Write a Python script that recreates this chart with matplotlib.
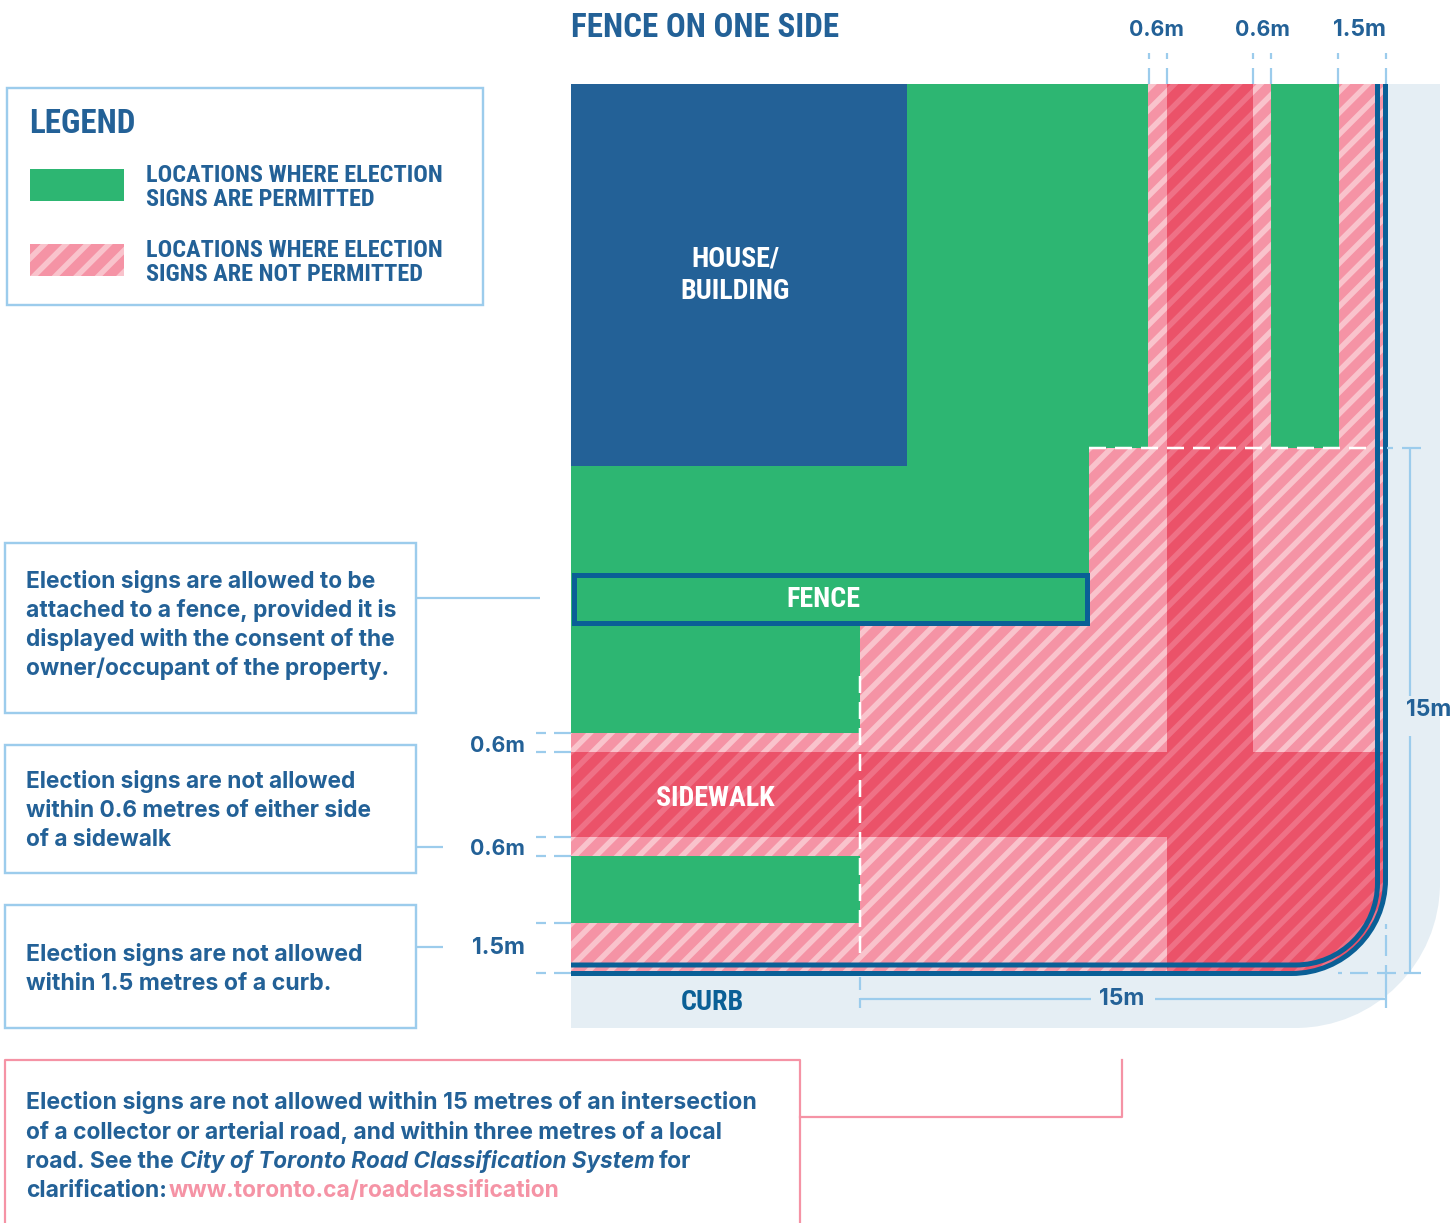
import matplotlib
matplotlib.use("Agg")
import matplotlib.pyplot as plt
import numpy as np
from matplotlib.path import Path
from matplotlib.patches import PathPatch, Rectangle
from matplotlib.collections import LineCollection
from matplotlib import font_manager as fm

# ---- diagram geometry (pixel grid of the figure) ----
road_left, road_top, road_right, road_bottom = 571, 84, 1385, 973
house_box = [571, 907, 84, 466]
fence_box = [573.5, 1087, 574.5, 622.5]
boxes = [[7, 483, 88, 305], [5, 416, 543, 713], [5, 416, 745, 873], [5, 416, 905, 1028]]

legend_title = "LEGEND"
legend_labels = [["LOCATIONS WHERE ELECTION", "SIGNS ARE PERMITTED"],
                 ["LOCATIONS WHERE ELECTION", "SIGNS ARE NOT PERMITTED"]]
note_fence = ["Election signs are allowed to be", "attached to a fence, provided it is",
              "displayed with the consent of the", "owner/occupant of the property."]
note_side = ["Election signs are not allowed", "within 0.6 metres of either side", "of a sidewalk"]
note_curb = ["Election signs are not allowed", "within 1.5 metres of a curb."]
top_dims = [("0.6m", 1156, 21.3), ("0.6m", 1262, 21.3), ("1.5m", 1359.5, 23)]
left_dims = [("0.6m", 744, 21.3), ("0.6m", 847, 21.3), ("1.5m", 946, 23)]

NAVY = "#236197"; CURB = "#0A5F96"; GREEN = "#2DB672"; PINK = "#F593A5"; PINK_S = "#F9C3CC"
RED = "#EB5269"; RED_S = "#EF7186"; SKY = "#9CCCEC"; BG = "#E5EEF4"

names = {f.name for f in fm.fontManager.ttflist}
COND = next((n for n in ["Roboto Condensed", "Liberation Sans Narrow", "Open Sans Condensed", "Roboto"] if n in names), "DejaVu Sans")
BODY = "Inter" if "Inter" in names else "Roboto"
PT = 72 / 100

fig = plt.figure(figsize=(14.54, 12.23), dpi=100, facecolor="white")
ax = fig.add_axes([0, 0, 1, 1]); ax.set_xlim(0, 1454); ax.set_ylim(1223, 0); ax.axis("off")

def rect(x0, x1, y0, y1, **k):
    k.setdefault("lw", 0)
    p = Rectangle((x0, y0), x1 - x0, y1 - y0, **k); ax.add_patch(p); return p

def round_path(pts, corner, r):
    """Closed polygon; `corner` index vertex is rounded with radius r."""
    v, c = [], []
    for i, (x, y) in enumerate(pts):
        if i == corner:
            a, b = pts[i - 1], pts[i + 1]
            k = 0.5523
            da = np.array(a, float) - (x, y); da /= np.hypot(*da)
            db = np.array(b, float) - (x, y); db /= np.hypot(*db)
            P = np.array((x, y), float)
            v += [P + da * r, P + da * r * (1 - k), P + db * r * (1 - k), P + db * r]
            c += [Path.LINETO, Path.CURVE4, Path.CURVE4, Path.CURVE4]
        else:
            v.append((x, y)); c.append(Path.LINETO)
    c[0] = Path.MOVETO
    v.append(v[0]); c.append(Path.CLOSEPOLY)
    return Path(np.array(v, float), c)

def stripes(patch, color, period=21.5, lw_px=5.5, phase=11.5):
    xs = np.arange(phase, 2800, period)
    segs = [[(c, 0), (c - 1223, 1223)] for c in xs]
    lc = LineCollection(segs, colors=color, linewidths=lw_px * PT, zorder=patch.get_zorder() + 0.01)
    ax.add_collection(lc); lc.set_clip_path(patch)

R = 90
# site background
ax.add_patch(PathPatch(round_path([(571, 84), (1440, 84), (1440, 1028), (571, 1028)], 2, 145), fc=BG, lw=0, zorder=1))

# not-permitted zone
pink = round_path([(1148, road_top), (road_right, road_top), (road_right, road_bottom), (road_left, road_bottom),
                   (road_left, 733), (860, 733), (860, 625), (1089, 625), (1089, 448), (1148, 448)], 2, R)
pp = PathPatch(pink, fc=PINK, lw=0, zorder=2); ax.add_patch(pp); stripes(pp, PINK_S)

# sidewalks
red = round_path([(1167, road_top), (1253, road_top), (1253, 752), (road_right, 752), (road_right, road_bottom),
                  (1167, road_bottom), (1167, 837), (road_left, 837), (road_left, 752), (1167, 752)], 4, R)
rp = PathPatch(red, fc=RED, lw=0, zorder=3); ax.add_patch(rp); stripes(rp, RED_S)

# permitted zones
for b in [[571, 1148, 84, 448], [571, 1089, 448, 625], [571, 860, 625, 733], [571, 860, 856, 923], [1271, 1339, 84, 448]]:
    rect(*b, fc=GREEN, zorder=4)
rect(*house_box, fc=NAVY, zorder=5)
rect(*fence_box, fc=GREEN, ec=CURB, lw=5 * PT, zorder=5)

# white zone limits
ax.plot([1089, 1385], [448, 448], color="white", lw=2.5 * PT, dashes=(17 / 2.5, 9 / 2.5), zorder=5.5, dash_capstyle="butt")
ax.plot([860, 860], [676, 960], color="white", lw=2.5 * PT, dashes=(17 / 2.5, 9 / 2.5), zorder=5.5, dash_capstyle="butt")

# curb lines
def curb(xoff, yoff, r):
    x = road_right - xoff; y = road_bottom - yoff
    p = round_path([(road_left, y), (x, y), (x, road_top)], 1, r)
    p = Path(p.vertices[:-1], p.codes[:-1])
    ax.add_patch(PathPatch(p, fc="none", ec=CURB, lw=5 * PT, zorder=6, capstyle="butt"))
curb(-0.5, -0.5, R + 4)
curb(7.5, 8, R - 8)

# dimension lines
def sky(xs, ys, z=8, lw=2.2):
    ax.plot(xs, ys, color=SKY, lw=lw * PT, zorder=z, solid_capstyle="butt")
for x in [1148.5, 1166.5, 1252.5, 1270.5, 1337.5, 1385.5]:
    sky([x, x], [53, 59]); sky([x, x], [68, 84])
for y in [733, 752, 837, 856, 923, 973]:
    sky([536, 546], [y, y]); sky([554, 571], [y, y])
sky([417, 540], [598, 598]); sky([417, 443], [847, 847]); sky([417, 443], [947, 947])
sky([1409.5, 1409.5], [448, 696]); sky([1409.5, 1409.5], [736, 973])
sky([1387, 1393], [448, 448]); sky([1402, 1421], [448, 448])
for a, b in [(1338, 1342), (1350, 1368), (1377, 1396), (1404, 1421)]:
    sky([a, b], [973, 973])
for a, b in [(924, 929), (935, 956), (965, 990), (990, 1008)]:
    sky([1385.5, 1385.5], [a, b])
sky([860, 860], [977, 990]); sky([860, 860], [998, 1008])
sky([860, 1091], [998.5, 998.5]); sky([1155, 1385], [998.5, 998.5])

# frames
for b in boxes:
    rect(*b, fc="white", ec=SKY, lw=2.4 * PT, zorder=2)
ax.plot([5, 5, 800, 800], [1223, 1060, 1060, 1223], color=PINK, lw=2.2 * PT, zorder=2)
ax.plot([800, 1122, 1122], [1117, 1117, 1060], color=PINK, lw=2.2 * PT, zorder=2)

# legend swatches
rect(30, 124, 169, 201, fc=GREEN, zorder=3)
sw = rect(30, 124, 244, 276, fc=PINK, zorder=3); stripes(sw, PINK_S, phase=9)

def cond(x, y, s, size, color=NAVY, ha="left"):
    ax.text(x, y, s, family=COND, weight="bold", fontsize=size * PT, color=color, ha=ha, va="center", zorder=10)
def body(x, y, s, size=23.1, color=NAVY, **k):
    ax.text(x, y, s, family=BODY, weight="bold", fontsize=size * PT, color=color, ha="left", va="baseline", zorder=10, **k)
def dim(x, y, s, size, ha="center"):
    ax.text(x, y, s, family=BODY, weight="bold", fontsize=size * PT, color=NAVY, ha=ha, va="center", zorder=10)

cond(571, 28, "FENCE ON ONE SIDE", 33)
cond(29, 124, legend_title, 33)
for ys, lab in zip([(175.5, 199.5), (250.5, 274.5)], legend_labels):
    for y, s in zip(ys, lab):
        cond(146, y, s, 24.3)
cond(735.5, 259.5, "HOUSE/", 28, "white", "center")
cond(735.5, 291.5, "BUILDING", 28, "white", "center")
cond(823.5, 599.5, "FENCE", 28, "white", "center")
cond(715, 798.5, "SIDEWALK", 28, "white", "center")
cond(712.5, 1002.5, "CURB", 28, CURB, "center")

for (s, x, z) in top_dims:
    dim(x, 30, s, z)
for (s, y, z) in left_dims:
    dim(525, y + 2, s, z, "right")
dim(1429, 710, "15m", 23)
dim(1122, 999, "15m", 23)

for y, s in zip([588, 617, 646, 675], note_fence): body(26, y, s, size=22.8)
for y, s in zip([788, 817, 846.5], note_side): body(26, y, s, size=22.7)
for y, s in zip([961, 990], note_curb): body(26, y, s)
body(26, 1109.5, "Election signs are not allowed within 15 metres of an intersection")
body(26, 1139, "of a collector or arterial road, and within three metres of a local", size=22.8)
body(26, 1168, "road. See the", size=22.9)
body(180, 1168, "City of Toronto Road Classification System", size=22.5, style="italic")
body(659, 1168, "for", size=22.9)
body(26, 1197, "clarification:", size=22.9)
body(169, 1197, "www.toronto.ca/roadclassification", size=22.8, color=PINK)

fig.savefig("out.png", dpi=100)
